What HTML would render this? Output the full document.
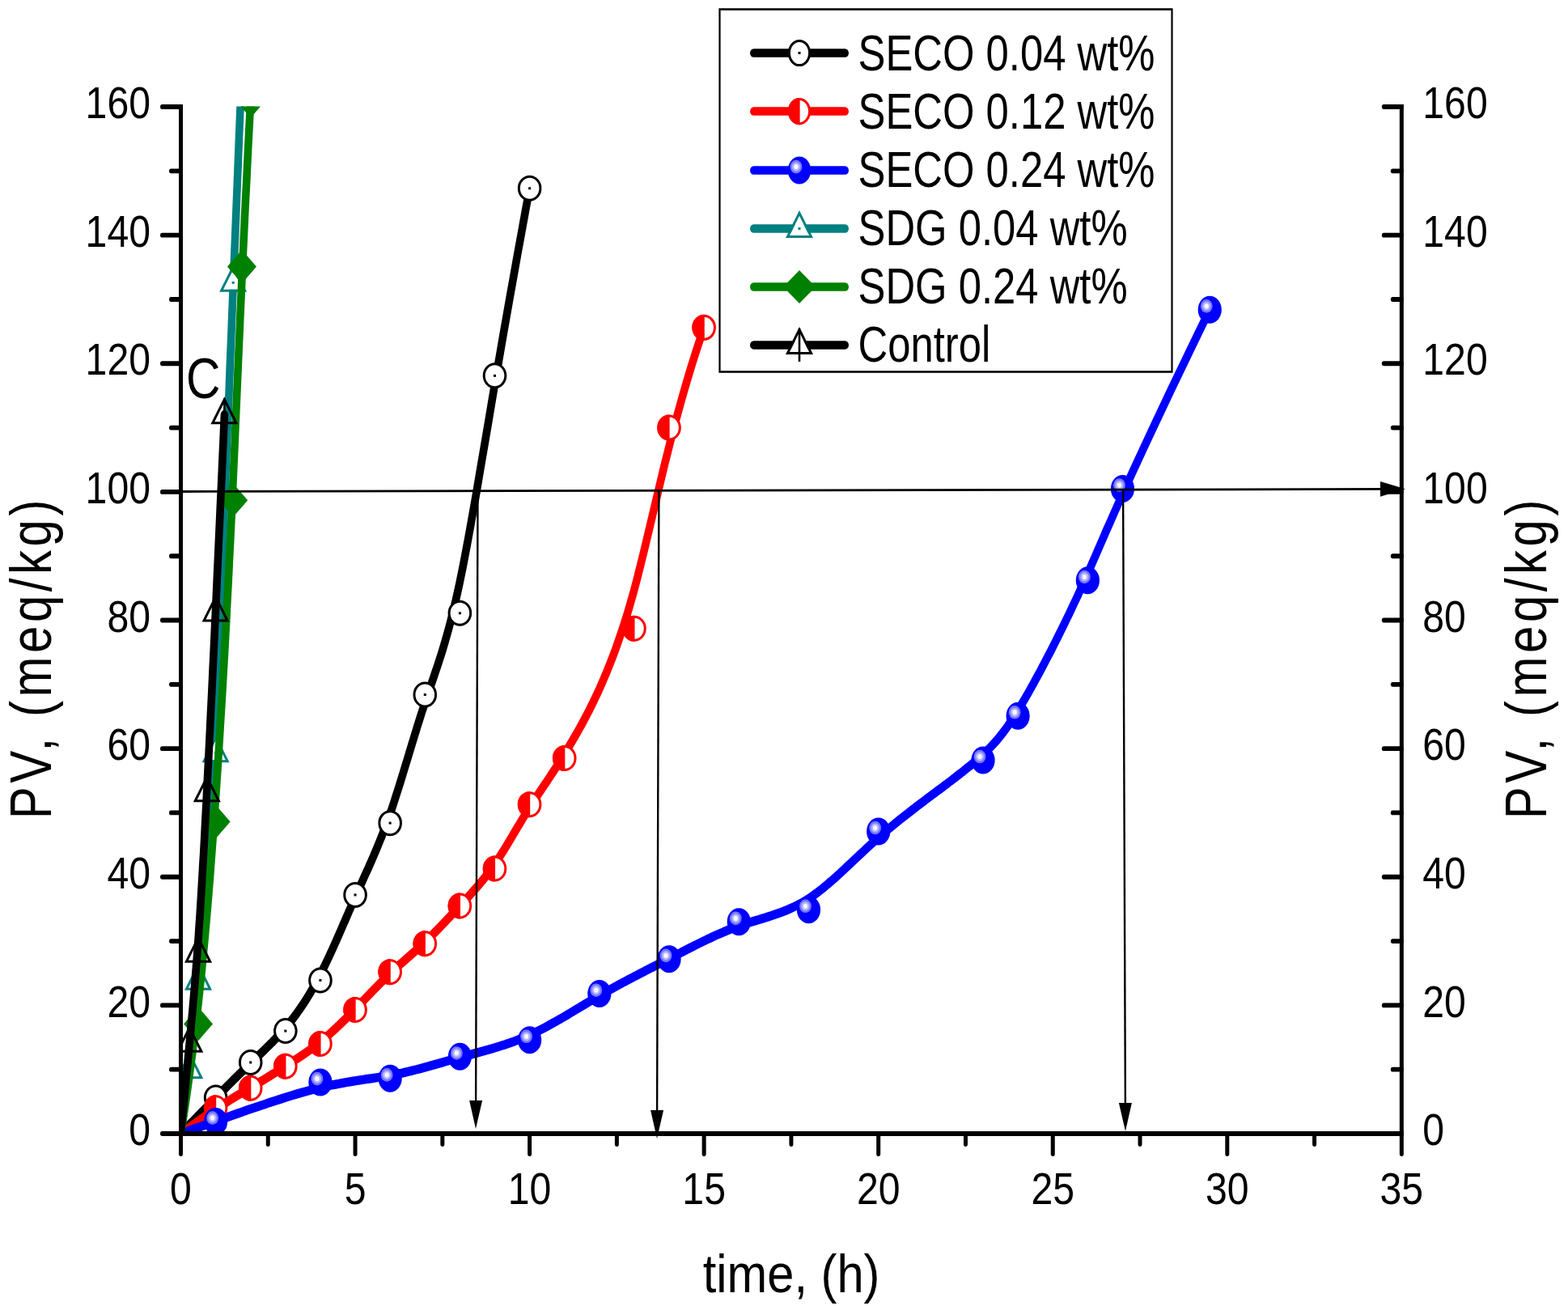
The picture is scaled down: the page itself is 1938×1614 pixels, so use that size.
<!DOCTYPE html>
<html><head><meta charset="utf-8"><title>PV vs time</title>
<style>html,body{margin:0;padding:0;background:#fff;}svg{display:block;}</style>
</head><body>
<svg width="1938" height="1614" viewBox="0 0 1938 1614" font-family="&quot;Liberation Sans&quot;, sans-serif" font-size="100">
<rect width="1938" height="1614" fill="#fff"/>
<defs><clipPath id="pc"><rect x="223.5" y="112.35" width="1508.85" height="1084.58"/></clipPath><clipPath id="pc2"><rect x="223.5" y="131.54" width="1508.85" height="1268.96"/></clipPath></defs>
<g transform="scale(1,1.17)" clip-path="url(#pc)"><path d="M223.5,1197.4 L228.8,1192.8 L233.8,1188.3 L238.7,1184.1 L243.3,1180.0 L247.8,1176.1 L252.1,1172.3 L256.2,1168.8 L260.1,1165.3 L263.9,1162.1 L267.5,1158.9 L270.9,1155.9 L274.2,1153.0 L277.4,1150.3 L280.5,1147.6 L283.5,1145.1 L286.3,1142.7 L289.0,1140.3 L291.7,1138.1 L294.3,1135.9 L296.8,1133.8 L299.2,1131.8 L301.6,1129.8 L303.9,1127.9 L306.1,1126.0 L308.4,1124.1 L310.5,1122.3 L312.7,1120.6 L314.8,1118.8 L316.9,1117.1 L319.0,1115.4 L321.0,1113.8 L323.0,1112.1 L325.0,1110.5 L327.0,1108.9 L328.9,1107.2 L330.8,1105.6 L332.7,1104.0 L334.6,1102.4 L336.5,1100.8 L338.3,1099.2 L340.2,1097.6 L342.0,1095.9 L343.8,1094.3 L345.6,1092.6 L347.4,1090.9 L349.2,1089.1 L351.0,1087.4 L352.8,1085.6 L354.6,1083.8 L356.4,1081.9 L358.2,1080.0 L360.0,1078.1 L361.8,1076.1 L363.6,1074.1 L365.4,1072.0 L367.2,1069.9 L369.0,1067.7 L370.8,1065.6 L372.6,1063.3 L374.4,1061.0 L376.2,1058.7 L378.0,1056.3 L379.8,1053.8 L381.6,1051.3 L383.4,1048.8 L385.2,1046.2 L387.0,1043.5 L388.8,1040.8 L390.6,1038.0 L392.3,1035.2 L394.1,1032.3 L395.9,1029.3 L397.7,1026.3 L399.5,1023.2 L401.3,1020.1 L403.1,1016.9 L404.9,1013.6 L406.7,1010.4 L408.5,1007.0 L410.3,1003.7 L412.1,1000.3 L413.9,996.8 L415.7,993.4 L417.5,989.9 L419.3,986.4 L421.1,982.9 L422.9,979.3 L424.7,975.8 L426.5,972.3 L428.3,968.7 L430.1,965.2 L431.9,961.6 L433.7,958.1 L435.5,954.6 L437.3,951.1 L439.0,947.6 L440.8,944.2 L442.6,940.8 L444.4,937.4 L446.2,933.9 L448.0,930.5 L449.8,927.1 L451.6,923.7 L453.4,920.3 L455.2,916.9 L457.0,913.4 L458.8,909.9 L460.6,906.4 L462.4,902.8 L464.2,899.2 L466.0,895.5 L467.8,891.8 L469.6,888.0 L471.4,884.2 L473.2,880.3 L475.0,876.3 L476.8,872.2 L478.6,868.0 L480.4,863.8 L482.2,859.4 L484.0,855.0 L485.8,850.4 L487.5,845.8 L489.3,841.0 L491.1,836.2 L492.9,831.4 L494.7,826.5 L496.5,821.5 L498.3,816.5 L500.1,811.5 L501.9,806.4 L503.7,801.4 L505.5,796.3 L507.3,791.2 L509.1,786.1 L510.9,781.0 L512.7,776.0 L514.5,771.0 L516.3,766.0 L518.1,761.1 L519.9,756.2 L521.7,751.4 L523.5,746.7 L525.3,742.0 L527.1,737.4 L528.9,732.9 L530.7,728.4 L532.5,724.0 L534.3,719.5 L536.1,715.0 L537.9,710.4 L539.8,705.7 L541.6,701.0 L543.5,696.0 L545.4,691.0 L547.3,685.7 L549.2,680.3 L551.1,674.6 L553.1,668.6 L555.1,662.4 L557.1,655.8 L559.1,648.9 L561.2,641.7 L563.3,634.1 L565.4,626.1 L567.6,617.6 L569.7,608.7 L572.0,599.3 L574.2,589.4 L576.5,579.1 L578.9,568.1 L581.3,556.7 L583.8,544.7 L586.4,532.1 L589.1,519.0 L591.8,505.3 L594.6,491.0 L597.6,476.1 L600.7,460.6 L603.9,444.5 L607.2,427.7 L610.6,410.3 L614.2,392.3 L618.0,373.6 L621.9,354.2 L626.0,334.2 L630.3,313.4 L634.8,292.0 L639.4,269.8 L644.3,246.9 L649.3,223.3 L654.6,198.9" fill="none" stroke="#000000" stroke-width="9.6" stroke-linecap="round" stroke-linejoin="round"/></g>
<g clip-path="url(#pc2)"><ellipse cx="266.61" cy="1356.59" rx="13.3" ry="14.5" fill="#fff" stroke="#000000" stroke-width="3.0"/><rect x="265.11" y="1355.09" width="3" height="3" fill="#000000"/><ellipse cx="309.72" cy="1312.97" rx="13.3" ry="14.5" fill="#fff" stroke="#000000" stroke-width="3.0"/><rect x="308.22" y="1311.47" width="3" height="3" fill="#000000"/><ellipse cx="352.83" cy="1274.1" rx="13.3" ry="14.5" fill="#fff" stroke="#000000" stroke-width="3.0"/><rect x="351.33" y="1272.6" width="3" height="3" fill="#000000"/><ellipse cx="395.94" cy="1211.45" rx="13.3" ry="14.5" fill="#fff" stroke="#000000" stroke-width="3.0"/><rect x="394.44" y="1209.95" width="3" height="3" fill="#000000"/><ellipse cx="439.05" cy="1105.97" rx="13.3" ry="14.5" fill="#fff" stroke="#000000" stroke-width="3.0"/><rect x="437.55" y="1104.47" width="3" height="3" fill="#000000"/><ellipse cx="482.16" cy="1017.14" rx="13.3" ry="14.5" fill="#fff" stroke="#000000" stroke-width="3.0"/><rect x="480.66" y="1015.64" width="3" height="3" fill="#000000"/><ellipse cx="525.27" cy="858.52" rx="13.3" ry="14.5" fill="#fff" stroke="#000000" stroke-width="3.0"/><rect x="523.77" y="857.02" width="3" height="3" fill="#000000"/><ellipse cx="568.38" cy="757.8" rx="13.3" ry="14.5" fill="#fff" stroke="#000000" stroke-width="3.0"/><rect x="566.88" y="756.3" width="3" height="3" fill="#000000"/><ellipse cx="611.49" cy="464.35" rx="13.3" ry="14.5" fill="#fff" stroke="#000000" stroke-width="3.0"/><rect x="609.99" y="462.85" width="3" height="3" fill="#000000"/><ellipse cx="654.6" cy="232.76" rx="13.3" ry="14.5" fill="#fff" stroke="#000000" stroke-width="3.0"/><rect x="653.1" y="231.26" width="3" height="3" fill="#000000"/></g>
<g transform="scale(1,1.17)" clip-path="url(#pc)"><path d="M223.5,1197.4 L228.8,1194.1 L233.8,1191.0 L238.7,1188.0 L243.3,1185.2 L247.8,1182.5 L252.1,1180.0 L256.2,1177.6 L260.1,1175.3 L263.9,1173.1 L267.5,1171.1 L270.9,1169.2 L274.2,1167.3 L277.4,1165.6 L280.5,1163.9 L283.5,1162.3 L286.3,1160.8 L289.0,1159.4 L291.7,1158.0 L294.3,1156.7 L296.8,1155.5 L299.2,1154.2 L301.6,1153.0 L303.9,1151.9 L306.1,1150.7 L308.4,1149.6 L310.5,1148.5 L312.7,1147.4 L314.8,1146.3 L316.9,1145.2 L319.0,1144.1 L321.0,1143.1 L323.0,1142.0 L325.0,1141.0 L327.0,1140.0 L328.9,1139.0 L330.8,1137.9 L332.7,1136.9 L334.6,1135.9 L336.5,1134.9 L338.3,1134.0 L340.2,1133.0 L342.0,1132.0 L343.8,1131.0 L345.6,1130.0 L347.4,1129.1 L349.2,1128.1 L351.0,1127.1 L352.8,1126.1 L354.6,1125.2 L356.4,1124.2 L358.2,1123.2 L360.0,1122.2 L361.8,1121.2 L363.6,1120.2 L365.4,1119.2 L367.2,1118.2 L369.0,1117.2 L370.8,1116.2 L372.6,1115.2 L374.4,1114.1 L376.2,1113.1 L378.0,1112.0 L379.8,1110.9 L381.6,1109.8 L383.4,1108.7 L385.2,1107.6 L387.0,1106.5 L388.8,1105.3 L390.6,1104.1 L392.3,1102.9 L394.1,1101.7 L395.9,1100.5 L397.7,1099.2 L399.5,1098.0 L401.3,1096.7 L403.1,1095.4 L404.9,1094.0 L406.7,1092.7 L408.5,1091.3 L410.3,1089.9 L412.1,1088.5 L413.9,1087.1 L415.7,1085.7 L417.5,1084.2 L419.3,1082.8 L421.1,1081.3 L422.9,1079.8 L424.7,1078.3 L426.5,1076.8 L428.3,1075.3 L430.1,1073.7 L431.9,1072.2 L433.7,1070.6 L435.5,1069.1 L437.3,1067.5 L439.0,1065.9 L440.8,1064.3 L442.6,1062.8 L444.4,1061.2 L446.2,1059.6 L448.0,1058.0 L449.8,1056.4 L451.6,1054.7 L453.4,1053.1 L455.2,1051.5 L457.0,1049.9 L458.8,1048.3 L460.6,1046.7 L462.4,1045.1 L464.2,1043.6 L466.0,1042.0 L467.8,1040.4 L469.6,1038.9 L471.4,1037.3 L473.2,1035.8 L475.0,1034.3 L476.8,1032.7 L478.6,1031.3 L480.4,1029.8 L482.2,1028.3 L484.0,1026.9 L485.8,1025.4 L487.5,1024.0 L489.3,1022.6 L491.1,1021.2 L492.9,1019.8 L494.7,1018.5 L496.5,1017.1 L498.3,1015.8 L500.1,1014.4 L501.9,1013.1 L503.7,1011.7 L505.5,1010.4 L507.3,1009.0 L509.1,1007.6 L510.9,1006.3 L512.7,1004.9 L514.5,1003.6 L516.3,1002.2 L518.1,1000.8 L519.9,999.4 L521.7,998.0 L523.5,996.5 L525.3,995.1 L527.1,993.6 L528.9,992.2 L530.7,990.7 L532.5,989.1 L534.3,987.6 L536.0,986.1 L537.8,984.5 L539.6,983.0 L541.4,981.4 L543.2,979.8 L545.0,978.2 L546.8,976.6 L548.6,975.0 L550.4,973.4 L552.2,971.7 L554.0,970.1 L555.8,968.5 L557.6,966.8 L559.4,965.2 L561.2,963.5 L563.0,961.9 L564.8,960.2 L566.6,958.6 L568.4,956.9 L570.2,955.3 L572.0,953.6 L573.8,951.9 L575.6,950.3 L577.4,948.6 L579.2,946.9 L581.0,945.2 L582.7,943.5 L584.5,941.8 L586.3,940.1 L588.1,938.3 L589.9,936.6 L591.7,934.8 L593.5,932.9 L595.3,931.1 L597.1,929.2 L598.9,927.3 L600.7,925.3 L602.5,923.3 L604.3,921.3 L606.1,919.2 L607.9,917.1 L609.7,914.9 L611.5,912.7 L613.3,910.5 L615.1,908.2 L616.9,905.8 L618.7,903.4 L620.5,901.0 L622.3,898.6 L624.1,896.1 L625.9,893.6 L627.7,891.1 L629.5,888.5 L631.2,886.0 L633.0,883.4 L634.8,880.8 L636.6,878.2 L638.4,875.6 L640.2,873.0 L642.0,870.5 L643.8,867.9 L645.6,865.3 L647.4,862.8 L649.2,860.3 L651.0,857.8 L652.8,855.3 L654.6,852.9 L656.4,850.4 L658.2,848.1 L660.0,845.7 L661.8,843.3 L663.6,841.0 L665.5,838.6 L667.4,836.2 L669.2,833.8 L671.1,831.4 L673.1,828.9 L675.1,826.4 L677.1,823.8 L679.1,821.2 L681.2,818.5 L683.3,815.8 L685.5,812.9 L687.7,810.0 L690.0,806.9 L692.3,803.8 L694.7,800.5 L697.1,797.2 L699.7,793.6 L702.2,790.0 L704.9,786.2 L707.6,782.3 L710.4,778.1 L713.3,773.9 L716.2,769.4 L719.2,764.8 L722.2,760.0 L725.3,755.0 L728.4,749.8 L731.6,744.4 L734.8,738.7 L738.0,732.9 L741.3,726.8 L744.5,720.5 L747.8,713.9 L751.1,707.2 L754.4,700.1 L757.7,692.8 L761.0,685.2 L764.2,677.4 L767.5,669.2 L770.8,660.8 L774.0,652.1 L777.2,643.1 L780.3,633.7 L783.5,624.1 L786.6,614.2 L789.6,603.9 L792.7,593.4 L795.8,582.7 L798.9,571.6 L802.0,560.4 L805.2,548.9 L808.4,537.3 L811.7,525.4 L815.1,513.3 L818.5,501.1 L822.0,488.7 L825.7,476.2 L829.4,463.5 L833.3,450.8 L837.3,437.9 L841.5,424.9 L845.8,411.9 L850.3,398.8 L854.9,385.7 L859.8,372.5 L864.9,359.3 L870.1,346.0" fill="none" stroke="#ff0000" stroke-width="9.6" stroke-linecap="round" stroke-linejoin="round"/></g>
<g clip-path="url(#pc2)"><ellipse cx="266.61" cy="1369.28" rx="13.3" ry="14.5" fill="#fff" stroke="#ff0000" stroke-width="3.0"/><path d="M267.21,1353.28 L267.21,1385.28 L266.61,1385.28 A14.8,16 0 0 1 266.61,1353.28 Z" fill="#ff0000"/><ellipse cx="309.72" cy="1344.69" rx="13.3" ry="14.5" fill="#fff" stroke="#ff0000" stroke-width="3.0"/><path d="M310.32,1328.69 L310.32,1360.69 L309.72,1360.69 A14.8,16 0 0 1 309.72,1328.69 Z" fill="#ff0000"/><ellipse cx="352.83" cy="1317.72" rx="13.3" ry="14.5" fill="#fff" stroke="#ff0000" stroke-width="3.0"/><path d="M353.43,1301.72 L353.43,1333.72 L352.83,1333.72 A14.8,16 0 0 1 352.83,1301.72 Z" fill="#ff0000"/><ellipse cx="395.94" cy="1289.97" rx="13.3" ry="14.5" fill="#fff" stroke="#ff0000" stroke-width="3.0"/><path d="M396.54,1273.97 L396.54,1305.97 L395.94,1305.97 A14.8,16 0 0 1 395.94,1273.97 Z" fill="#ff0000"/><ellipse cx="439.05" cy="1247.93" rx="13.3" ry="14.5" fill="#fff" stroke="#ff0000" stroke-width="3.0"/><path d="M439.65,1231.93 L439.65,1263.93 L439.05,1263.93 A14.8,16 0 0 1 439.05,1231.93 Z" fill="#ff0000"/><ellipse cx="482.16" cy="1201.14" rx="13.3" ry="14.5" fill="#fff" stroke="#ff0000" stroke-width="3.0"/><path d="M482.76,1185.14 L482.76,1217.14 L482.16,1217.14 A14.8,16 0 0 1 482.16,1185.14 Z" fill="#ff0000"/><ellipse cx="525.27" cy="1166.24" rx="13.3" ry="14.5" fill="#fff" stroke="#ff0000" stroke-width="3.0"/><path d="M525.87,1150.24 L525.87,1182.24 L525.27,1182.24 A14.8,16 0 0 1 525.27,1150.24 Z" fill="#ff0000"/><ellipse cx="568.38" cy="1119.45" rx="13.3" ry="14.5" fill="#fff" stroke="#ff0000" stroke-width="3.0"/><path d="M568.98,1103.45 L568.98,1135.45 L568.38,1135.45 A14.8,16 0 0 1 568.38,1103.45 Z" fill="#ff0000"/><ellipse cx="611.49" cy="1073.45" rx="13.3" ry="14.5" fill="#fff" stroke="#ff0000" stroke-width="3.0"/><path d="M612.09,1057.45 L612.09,1089.45 L611.49,1089.45 A14.8,16 0 0 1 611.49,1057.45 Z" fill="#ff0000"/><ellipse cx="654.6" cy="994.14" rx="13.3" ry="14.5" fill="#fff" stroke="#ff0000" stroke-width="3.0"/><path d="M655.2,978.14 L655.2,1010.14 L654.6,1010.14 A14.8,16 0 0 1 654.6,978.14 Z" fill="#ff0000"/><ellipse cx="697.71" cy="937.04" rx="13.3" ry="14.5" fill="#fff" stroke="#ff0000" stroke-width="3.0"/><path d="M698.31,921.04 L698.31,953.04 L697.71,953.04 A14.8,16 0 0 1 697.71,921.04 Z" fill="#ff0000"/><ellipse cx="783.93" cy="776.83" rx="13.3" ry="14.5" fill="#fff" stroke="#ff0000" stroke-width="3.0"/><path d="M784.53,760.83 L784.53,792.83 L783.93,792.83 A14.8,16 0 0 1 783.93,760.83 Z" fill="#ff0000"/><ellipse cx="827.04" cy="528.59" rx="13.3" ry="14.5" fill="#fff" stroke="#ff0000" stroke-width="3.0"/><path d="M827.64,512.59 L827.64,544.59 L827.04,544.59 A14.8,16 0 0 1 827.04,512.59 Z" fill="#ff0000"/><ellipse cx="870.15" cy="404.87" rx="13.3" ry="14.5" fill="#fff" stroke="#ff0000" stroke-width="3.0"/><path d="M870.75,388.87 L870.75,420.87 L870.15,420.87 A14.8,16 0 0 1 870.15,388.87 Z" fill="#ff0000"/></g>
<g transform="scale(1,1.17)" clip-path="url(#pc)"><path d="M223.5,1197.4 L229.0,1195.8 L234.7,1194.1 L240.6,1192.3 L246.7,1190.4 L252.9,1188.5 L259.3,1186.6 L265.7,1184.6 L272.3,1182.6 L279.0,1180.6 L285.8,1178.5 L292.6,1176.5 L299.4,1174.5 L306.2,1172.4 L313.1,1170.4 L319.9,1168.4 L326.8,1166.5 L333.5,1164.5 L340.2,1162.7 L346.8,1160.9 L353.3,1159.1 L359.7,1157.4 L366.0,1155.8 L372.0,1154.3 L378.0,1152.9 L383.7,1151.5 L389.3,1150.3 L394.7,1149.2 L399.9,1148.1 L405.0,1147.1 L409.9,1146.2 L414.7,1145.4 L419.4,1144.6 L423.9,1143.9 L428.3,1143.2 L432.6,1142.6 L436.8,1142.0 L440.9,1141.4 L444.9,1140.9 L448.9,1140.4 L452.8,1139.9 L456.6,1139.4 L460.3,1139.0 L464.0,1138.5 L467.7,1138.0 L471.3,1137.5 L475.0,1137.0 L478.6,1136.5 L482.2,1136.0 L485.8,1135.4 L489.3,1134.8 L492.9,1134.1 L496.5,1133.5 L500.1,1132.8 L503.7,1132.1 L507.3,1131.3 L510.9,1130.6 L514.5,1129.8 L518.1,1129.0 L521.7,1128.2 L525.3,1127.3 L528.9,1126.5 L532.5,1125.6 L536.0,1124.8 L539.6,1123.9 L543.2,1123.1 L546.8,1122.2 L550.4,1121.3 L554.0,1120.4 L557.6,1119.6 L561.2,1118.7 L564.8,1117.8 L568.4,1117.0 L572.0,1116.2 L575.6,1115.3 L579.2,1114.5 L582.8,1113.7 L586.3,1112.8 L589.9,1112.0 L593.5,1111.1 L597.1,1110.3 L600.7,1109.4 L604.3,1108.6 L607.9,1107.7 L611.5,1106.7 L615.1,1105.8 L618.7,1104.8 L622.3,1103.9 L625.9,1102.8 L629.5,1101.8 L633.0,1100.7 L636.6,1099.6 L640.2,1098.4 L643.8,1097.2 L647.4,1095.9 L651.0,1094.6 L654.6,1093.3 L658.2,1091.9 L661.8,1090.4 L665.4,1088.9 L669.0,1087.3 L672.6,1085.7 L676.2,1084.1 L679.7,1082.4 L683.3,1080.7 L686.9,1079.0 L690.5,1077.2 L694.1,1075.5 L697.7,1073.7 L701.3,1071.9 L704.9,1070.0 L708.5,1068.2 L712.1,1066.3 L715.7,1064.5 L719.3,1062.6 L722.9,1060.8 L726.5,1058.9 L730.0,1057.1 L733.6,1055.3 L737.2,1053.5 L740.8,1051.7 L744.4,1049.9 L748.0,1048.2 L751.6,1046.4 L755.2,1044.7 L758.8,1043.0 L762.4,1041.4 L766.0,1039.7 L769.6,1038.0 L773.2,1036.4 L776.7,1034.8 L780.3,1033.2 L783.9,1031.6 L787.5,1030.0 L791.1,1028.4 L794.7,1026.8 L798.3,1025.2 L801.9,1023.6 L805.5,1022.0 L809.1,1020.5 L812.7,1018.9 L816.3,1017.3 L819.9,1015.8 L823.4,1014.2 L827.0,1012.6 L830.6,1011.0 L834.2,1009.4 L837.8,1007.8 L841.4,1006.3 L845.0,1004.7 L848.6,1003.1 L852.2,1001.5 L855.8,1000.0 L859.4,998.4 L863.0,996.9 L866.6,995.4 L870.1,993.9 L873.7,992.4 L877.3,991.0 L880.9,989.5 L884.5,988.1 L888.1,986.8 L891.7,985.4 L895.3,984.1 L898.9,982.8 L902.5,981.6 L906.1,980.4 L909.7,979.3 L913.3,978.1 L916.9,977.1 L920.4,976.1 L924.0,975.1 L927.6,974.1 L931.2,973.1 L934.8,972.2 L938.4,971.3 L942.0,970.3 L945.6,969.4 L949.2,968.4 L952.8,967.4 L956.4,966.4 L960.0,965.3 L963.6,964.2 L967.1,963.1 L970.7,961.9 L974.3,960.6 L977.9,959.2 L981.5,957.8 L985.1,956.3 L988.7,954.7 L992.3,953.0 L995.9,951.2 L999.5,949.2 L1003.1,947.2 L1006.7,945.0 L1010.3,942.7 L1013.9,940.3 L1017.5,937.9 L1021.1,935.3 L1024.8,932.6 L1028.5,929.9 L1032.2,927.1 L1035.9,924.2 L1039.7,921.2 L1043.5,918.2 L1047.3,915.1 L1051.2,912.0 L1055.1,908.9 L1059.1,905.7 L1063.1,902.4 L1067.2,899.2 L1071.3,895.9 L1075.5,892.6 L1079.7,889.3 L1084.0,886.0 L1088.4,882.7 L1092.9,879.4 L1097.4,876.1 L1102.0,872.9 L1106.7,869.6 L1111.3,866.4 L1116.1,863.1 L1120.8,860.0 L1125.6,856.8 L1130.4,853.6 L1135.2,850.5 L1140.0,847.4 L1144.7,844.3 L1149.5,841.3 L1154.2,838.3 L1158.8,835.3 L1163.4,832.4 L1167.9,829.5 L1172.4,826.6 L1176.7,823.8 L1181.0,821.0 L1185.2,818.2 L1189.3,815.5 L1193.2,812.8 L1197.0,810.2 L1200.7,807.7 L1204.2,805.1 L1207.6,802.7 L1210.8,800.2 L1213.9,797.8 L1216.9,795.4 L1219.9,793.0 L1222.7,790.6 L1225.4,788.1 L1228.1,785.7 L1230.7,783.2 L1233.2,780.7 L1235.7,778.1 L1238.1,775.5 L1240.6,772.8 L1243.0,770.0 L1245.4,767.2 L1247.8,764.2 L1250.2,761.1 L1252.6,758.0 L1255.0,754.7 L1257.5,751.3 L1260.1,747.7 L1262.7,744.0 L1265.3,740.1 L1268.1,736.1 L1270.9,731.9 L1273.7,727.5 L1276.7,723.0 L1279.6,718.4 L1282.7,713.6 L1285.8,708.7 L1288.9,703.7 L1292.0,698.6 L1295.2,693.3 L1298.5,688.0 L1301.7,682.6 L1305.0,677.1 L1308.2,671.5 L1311.5,665.8 L1314.8,660.1 L1318.1,654.3 L1321.4,648.5 L1324.7,642.6 L1327.9,636.7 L1331.2,630.7 L1334.4,624.7 L1337.6,618.7 L1340.8,612.7 L1343.9,606.7 L1347.0,600.6 L1350.2,594.4 L1353.5,588.0 L1356.8,581.4 L1360.4,574.4 L1364.1,567.1 L1368.0,559.3 L1372.3,551.1 L1376.8,542.3 L1381.7,532.9 L1387.0,522.8 L1392.7,512.0 L1398.9,500.4 L1405.6,487.9 L1412.9,474.5 L1420.7,460.1 L1429.2,444.7 L1438.3,428.2 L1448.1,410.5 L1458.7,391.7 L1470.0,371.5 L1482.2,350.0 L1495.2,327.1" fill="none" stroke="#0000ff" stroke-width="9.6" stroke-linecap="round" stroke-linejoin="round"/></g>
<g clip-path="url(#pc2)"><ellipse cx="266.61" cy="1385.93" rx="14.6" ry="17" fill="#0000ff"/><ellipse cx="262.61" cy="1381.53" rx="7.4" ry="8.3" fill="#7878ff"/><ellipse cx="262.61" cy="1381.53" rx="5.1" ry="5.6" fill="#b4b4ff"/><ellipse cx="262.61" cy="1381.53" rx="2.7" ry="3.1" fill="#f8f8ff"/><ellipse cx="395.94" cy="1337.55" rx="14.6" ry="17" fill="#0000ff"/><ellipse cx="391.94" cy="1333.15" rx="7.4" ry="8.3" fill="#7878ff"/><ellipse cx="391.94" cy="1333.15" rx="5.1" ry="5.6" fill="#b4b4ff"/><ellipse cx="391.94" cy="1333.15" rx="2.7" ry="3.1" fill="#f8f8ff"/><ellipse cx="482.16" cy="1332.79" rx="14.6" ry="17" fill="#0000ff"/><ellipse cx="478.16" cy="1328.39" rx="7.4" ry="8.3" fill="#7878ff"/><ellipse cx="478.16" cy="1328.39" rx="5.1" ry="5.6" fill="#b4b4ff"/><ellipse cx="478.16" cy="1328.39" rx="2.7" ry="3.1" fill="#f8f8ff"/><ellipse cx="568.38" cy="1305.83" rx="14.6" ry="17" fill="#0000ff"/><ellipse cx="564.38" cy="1301.43" rx="7.4" ry="8.3" fill="#7878ff"/><ellipse cx="564.38" cy="1301.43" rx="5.1" ry="5.6" fill="#b4b4ff"/><ellipse cx="564.38" cy="1301.43" rx="2.7" ry="3.1" fill="#f8f8ff"/><ellipse cx="654.6" cy="1285.21" rx="14.6" ry="17" fill="#0000ff"/><ellipse cx="650.6" cy="1280.81" rx="7.4" ry="8.3" fill="#7878ff"/><ellipse cx="650.6" cy="1280.81" rx="5.1" ry="5.6" fill="#b4b4ff"/><ellipse cx="650.6" cy="1280.81" rx="2.7" ry="3.1" fill="#f8f8ff"/><ellipse cx="740.82" cy="1228.1" rx="14.6" ry="17" fill="#0000ff"/><ellipse cx="736.82" cy="1223.7" rx="7.4" ry="8.3" fill="#7878ff"/><ellipse cx="736.82" cy="1223.7" rx="5.1" ry="5.6" fill="#b4b4ff"/><ellipse cx="736.82" cy="1223.7" rx="2.7" ry="3.1" fill="#f8f8ff"/><ellipse cx="827.04" cy="1185.28" rx="14.6" ry="17" fill="#0000ff"/><ellipse cx="823.04" cy="1180.88" rx="7.4" ry="8.3" fill="#7878ff"/><ellipse cx="823.04" cy="1180.88" rx="5.1" ry="5.6" fill="#b4b4ff"/><ellipse cx="823.04" cy="1180.88" rx="2.7" ry="3.1" fill="#f8f8ff"/><ellipse cx="913.26" cy="1139.28" rx="14.6" ry="17" fill="#0000ff"/><ellipse cx="909.26" cy="1134.88" rx="7.4" ry="8.3" fill="#7878ff"/><ellipse cx="909.26" cy="1134.88" rx="5.1" ry="5.6" fill="#b4b4ff"/><ellipse cx="909.26" cy="1134.88" rx="2.7" ry="3.1" fill="#f8f8ff"/><ellipse cx="999.48" cy="1124.21" rx="14.6" ry="17" fill="#0000ff"/><ellipse cx="995.48" cy="1119.81" rx="7.4" ry="8.3" fill="#7878ff"/><ellipse cx="995.48" cy="1119.81" rx="5.1" ry="5.6" fill="#b4b4ff"/><ellipse cx="995.48" cy="1119.81" rx="2.7" ry="3.1" fill="#f8f8ff"/><ellipse cx="1085.7" cy="1027.45" rx="14.6" ry="17" fill="#0000ff"/><ellipse cx="1081.7" cy="1023.05" rx="7.4" ry="8.3" fill="#7878ff"/><ellipse cx="1081.7" cy="1023.05" rx="5.1" ry="5.6" fill="#b4b4ff"/><ellipse cx="1081.7" cy="1023.05" rx="2.7" ry="3.1" fill="#f8f8ff"/><ellipse cx="1215.03" cy="939.42" rx="14.6" ry="17" fill="#0000ff"/><ellipse cx="1211.03" cy="935.02" rx="7.4" ry="8.3" fill="#7878ff"/><ellipse cx="1211.03" cy="935.02" rx="5.1" ry="5.6" fill="#b4b4ff"/><ellipse cx="1211.03" cy="935.02" rx="2.7" ry="3.1" fill="#f8f8ff"/><ellipse cx="1258.14" cy="884.69" rx="14.6" ry="17" fill="#0000ff"/><ellipse cx="1254.14" cy="880.29" rx="7.4" ry="8.3" fill="#7878ff"/><ellipse cx="1254.14" cy="880.29" rx="5.1" ry="5.6" fill="#b4b4ff"/><ellipse cx="1254.14" cy="880.29" rx="2.7" ry="3.1" fill="#f8f8ff"/><ellipse cx="1344.36" cy="717.35" rx="14.6" ry="17" fill="#0000ff"/><ellipse cx="1340.36" cy="712.95" rx="7.4" ry="8.3" fill="#7878ff"/><ellipse cx="1340.36" cy="712.95" rx="5.1" ry="5.6" fill="#b4b4ff"/><ellipse cx="1340.36" cy="712.95" rx="2.7" ry="3.1" fill="#f8f8ff"/><ellipse cx="1387.47" cy="603.93" rx="14.6" ry="17" fill="#0000ff"/><ellipse cx="1383.47" cy="599.53" rx="7.4" ry="8.3" fill="#7878ff"/><ellipse cx="1383.47" cy="599.53" rx="5.1" ry="5.6" fill="#b4b4ff"/><ellipse cx="1383.47" cy="599.53" rx="2.7" ry="3.1" fill="#f8f8ff"/><ellipse cx="1495.24" cy="382.66" rx="14.6" ry="17" fill="#0000ff"/><ellipse cx="1491.24" cy="378.26" rx="7.4" ry="8.3" fill="#7878ff"/><ellipse cx="1491.24" cy="378.26" rx="5.1" ry="5.6" fill="#b4b4ff"/><ellipse cx="1491.24" cy="378.26" rx="2.7" ry="3.1" fill="#f8f8ff"/></g>
<g transform="scale(1,1.17)" clip-path="url(#pc)"><path d="M223.5,1197.4 L224.8,1189.1 L226.1,1180.9 L227.3,1172.9 L228.5,1165.1 L229.6,1157.5 L230.7,1149.9 L231.7,1142.5 L232.7,1135.3 L233.7,1128.1 L234.6,1120.9 L235.5,1113.8 L236.4,1106.8 L237.3,1099.8 L238.1,1092.8 L238.9,1085.7 L239.7,1078.7 L240.5,1071.6 L241.3,1064.5 L242.1,1057.2 L242.9,1049.9 L243.6,1042.5 L244.4,1034.9 L245.2,1027.2 L246.0,1019.4 L246.7,1011.4 L247.5,1003.1 L248.4,994.7 L249.2,985.9 L250.0,976.9 L250.9,967.6 L251.7,957.9 L252.6,947.8 L253.5,937.3 L254.3,926.4 L255.3,915.1 L256.2,903.2 L257.1,890.8 L258.1,877.8 L259.0,864.3 L260.0,850.1 L261.0,835.3 L262.0,819.9 L263.0,803.7 L264.1,786.8 L265.1,769.2 L266.2,750.7 L267.3,731.5 L268.4,711.4 L269.5,690.4 L270.7,668.4 L271.9,645.5 L273.1,621.6 L274.3,596.6 L275.6,570.4 L276.9,543.0 L278.3,514.4 L279.7,484.4 L281.2,453.1 L282.8,420.4 L284.3,386.2 L286.0,350.5 L287.7,313.2 L289.5,274.3 L291.4,233.7 L293.4,191.4 L295.4,147.2 L297.6,101.2 L299.8,53.4 L302.1,3.5 L304.6,-48.3 L307.1,-102.3 L309.7,-158.3" fill="none" stroke="#008080" stroke-width="9.6" stroke-linecap="round" stroke-linejoin="round"/></g>
<g clip-path="url(#pc2)"><path d="M234.28,1305.89 L246.42,1330.18 L222.13,1330.18 Z" fill="#fff"/><path d="M234.28,1299.18 L251.28,1333.18 L217.28,1333.18 Z M234.28,1305.89 L246.42,1330.18 L222.13,1330.18 Z" fill="#008080" fill-rule="evenodd"/><rect x="232.78" y="1320.19" width="3" height="3" fill="#008080"/><path d="M245.06,1196.44 L257.2,1220.73 L232.91,1220.73 Z" fill="#fff"/><path d="M245.06,1189.73 L262.06,1223.73 L228.06,1223.73 Z M245.06,1196.44 L257.2,1220.73 L232.91,1220.73 Z" fill="#008080" fill-rule="evenodd"/><rect x="243.56" y="1210.74" width="3" height="3" fill="#008080"/><path d="M266.61,914.89 L278.76,939.18 L254.46,939.18 Z" fill="#fff"/><path d="M266.61,908.18 L283.61,942.18 L249.61,942.18 Z M266.61,914.89 L278.76,939.18 L254.46,939.18 Z" fill="#008080" fill-rule="evenodd"/><rect x="265.11" y="929.19" width="3" height="3" fill="#008080"/><path d="M288.16,333.55 L300.31,357.84 L276.02,357.84 Z" fill="#fff"/><path d="M288.16,326.84 L305.16,360.84 L271.16,360.84 Z M288.16,333.55 L300.31,357.84 L276.02,357.84 Z" fill="#008080" fill-rule="evenodd"/><rect x="286.66" y="347.85" width="3" height="3" fill="#008080"/><path d="M309.72,-201 L321.87,-176.71 L297.57,-176.71 Z" fill="#fff"/><path d="M309.72,-207.71 L326.72,-173.71 L292.72,-173.71 Z M309.72,-201 L321.87,-176.71 L297.57,-176.71 Z" fill="#008080" fill-rule="evenodd"/><rect x="308.22" y="-186.7" width="3" height="3" fill="#008080"/></g>
<g transform="scale(1,1.17)" clip-path="url(#pc)"><path d="M223.5,1197.4 L226.1,1183.0 L228.7,1168.6 L231.1,1154.4 L233.4,1140.2 L235.6,1126.1 L237.8,1112.0 L239.8,1098.0 L241.8,1084.1 L243.7,1070.2 L245.5,1056.4 L247.2,1042.6 L248.9,1028.9 L250.5,1015.2 L252.0,1001.5 L253.5,987.8 L254.9,974.1 L256.3,960.5 L257.6,946.9 L258.9,933.2 L260.1,919.6 L261.3,905.9 L262.5,892.2 L263.7,878.5 L264.8,864.8 L265.9,851.0 L267.0,837.2 L268.1,823.4 L269.2,809.5 L270.2,795.6 L271.2,781.7 L272.2,767.7 L273.2,753.6 L274.2,739.6 L275.2,725.5 L276.1,711.3 L277.1,697.2 L278.0,682.9 L278.9,668.6 L279.8,654.3 L280.6,640.0 L281.5,625.6 L282.4,611.1 L283.2,596.6 L284.0,582.0 L284.9,567.4 L285.7,552.8 L286.5,538.1 L287.3,523.3 L288.0,508.5 L288.8,493.6 L289.6,478.6 L290.4,463.5 L291.1,448.3 L291.9,432.9 L292.7,417.4 L293.5,401.6 L294.3,385.6 L295.1,369.4 L296.0,353.0 L296.8,336.3 L297.7,319.2 L298.6,301.9 L299.5,284.2 L300.5,266.2 L301.5,247.8 L302.5,229.0 L303.6,209.8 L304.8,190.1 L305.9,170.0 L307.1,149.4 L308.4,128.4 L309.7,106.8" fill="none" stroke="#008000" stroke-width="9.6" stroke-linecap="round" stroke-linejoin="round"/></g>
<g clip-path="url(#pc2)"><polygon points="245.06,1244.58 263.06,1265.38 245.06,1286.18 227.06,1265.38" fill="#008000"/><polygon points="266.61,994.75 284.61,1015.55 266.61,1036.35 248.61,1015.55" fill="#008000"/><polygon points="288.16,597.41 306.16,618.21 288.16,639.01 270.16,618.21" fill="#008000"/><polygon points="298.94,308.72 316.94,329.52 298.94,350.32 280.94,329.52" fill="#008000"/><polygon points="309.72,104.1 327.72,124.9 309.72,145.7 291.72,124.9" fill="#008000"/></g>
<g transform="scale(1,1.17)" clip-path="url(#pc)"><path d="M223.5,1197.4 L224.8,1185.7 L226.1,1174.5 L227.3,1163.7 L228.5,1153.4 L229.6,1143.5 L230.6,1134.0 L231.7,1124.8 L232.6,1116.0 L233.6,1107.4 L234.5,1099.2 L235.4,1091.3 L236.2,1083.6 L237.0,1076.1 L237.8,1068.9 L238.5,1061.8 L239.2,1054.9 L239.9,1048.1 L240.6,1041.4 L241.2,1034.8 L241.8,1028.3 L242.4,1021.8 L243.0,1015.4 L243.6,1008.9 L244.2,1002.4 L244.7,995.9 L245.3,989.3 L245.8,982.7 L246.3,976.0 L246.9,969.2 L247.4,962.4 L247.9,955.4 L248.4,948.4 L248.9,941.3 L249.4,934.0 L249.9,926.7 L250.4,919.2 L250.9,911.6 L251.5,903.9 L252.0,896.1 L252.5,888.1 L253.0,879.9 L253.5,871.6 L254.0,863.1 L254.6,854.5 L255.1,845.7 L255.6,836.7 L256.2,827.5 L256.7,818.1 L257.3,808.5 L257.9,798.7 L258.5,788.6 L259.1,778.1 L259.7,767.3 L260.3,756.1 L261.0,744.5 L261.7,732.3 L262.4,719.6 L263.1,706.4 L263.9,692.5 L264.7,678.0 L265.5,662.8 L266.4,646.9 L267.3,630.2 L268.2,612.7 L269.2,594.3 L270.2,575.0 L271.3,554.8 L272.4,533.6 L273.6,511.4 L274.8,488.1 L276.1,463.7 L277.4,438.2" fill="none" stroke="#000000" stroke-width="9.6" stroke-linecap="round" stroke-linejoin="round"/></g>
<g clip-path="url(#pc2)"><path d="M234.28,1266.66 L251.28,1300.66 L217.28,1300.66 Z M234.28,1273.37 L246.42,1297.66 L222.13,1297.66 Z" fill="#000000" fill-rule="evenodd"/><rect x="232.98" y="1268.66" width="2.6" height="34" fill="#000000"/><path d="M245.06,1155.63 L262.06,1189.63 L228.06,1189.63 Z M245.06,1162.34 L257.2,1186.63 L232.91,1186.63 Z" fill="#000000" fill-rule="evenodd"/><rect x="243.75" y="1157.63" width="2.6" height="34" fill="#000000"/><path d="M255.83,957.36 L272.83,991.36 L238.83,991.36 Z M255.83,964.06 L267.98,988.36 L243.69,988.36 Z" fill="#000000" fill-rule="evenodd"/><rect x="254.53" y="959.36" width="2.6" height="34" fill="#000000"/><path d="M266.61,734.49 L283.61,768.49 L249.61,768.49 Z M266.61,741.2 L278.76,765.49 L254.46,765.49 Z" fill="#000000" fill-rule="evenodd"/><rect x="265.31" y="736.49" width="2.6" height="34" fill="#000000"/><path d="M277.39,490.22 L294.39,524.22 L260.39,524.22 Z M277.39,496.93 L289.53,521.22 L265.24,521.22 Z" fill="#000000" fill-rule="evenodd"/><rect x="276.09" y="492.22" width="2.6" height="34" fill="#000000"/></g>
<g transform="scale(1,1.17)">
<line x1="223.5" y1="519.23" x2="1712" y2="516.58" stroke="#000" stroke-width="2.4"/>
<polygon points="1706,508.55 1737,516.41 1706,524.62" fill="#000"/>
<line x1="590.5" y1="518.21" x2="588.11" y2="1164.1" stroke="#000" stroke-width="2.4"/>
<polygon points="580.11,1162.39 596.11,1162.39 588,1192.31" fill="#000"/>
<line x1="814.4" y1="518.21" x2="812.1" y2="1174.36" stroke="#000" stroke-width="2.4"/>
<polygon points="804.1,1172.65 820.1,1172.65 812,1202.56" fill="#000"/>
<line x1="1388.1" y1="517.09" x2="1390.87" y2="1166.67" stroke="#000" stroke-width="2.4"/>
<polygon points="1382.87,1164.96 1398.87,1164.96 1391,1194.87" fill="#000"/>
<g stroke="#000" stroke-width="5.0" stroke-linecap="round" fill="none">
<line x1="223.5" y1="112.85" x2="223.5" y2="1197.44" stroke-linecap="square"/>
<line x1="1732.35" y1="112.85" x2="1732.35" y2="1197.44" stroke-linecap="square"/>
<line x1="223.5" y1="1197.44" x2="1732.35" y2="1197.44" stroke-linecap="square"/>
<line x1="200.5" y1="1197.44" x2="223.5" y2="1197.44"/>
<line x1="211.5" y1="1129.65" x2="223.5" y2="1129.65"/>
<line x1="1721.35" y1="1129.65" x2="1732.35" y2="1129.65"/>
<line x1="200.5" y1="1061.86" x2="223.5" y2="1061.86"/>
<line x1="1710.35" y1="1061.86" x2="1732.35" y2="1061.86"/>
<line x1="211.5" y1="994.08" x2="223.5" y2="994.08"/>
<line x1="1721.35" y1="994.08" x2="1732.35" y2="994.08"/>
<line x1="200.5" y1="926.29" x2="223.5" y2="926.29"/>
<line x1="1710.35" y1="926.29" x2="1732.35" y2="926.29"/>
<line x1="211.5" y1="858.5" x2="223.5" y2="858.5"/>
<line x1="1721.35" y1="858.5" x2="1732.35" y2="858.5"/>
<line x1="200.5" y1="790.72" x2="223.5" y2="790.72"/>
<line x1="1710.35" y1="790.72" x2="1732.35" y2="790.72"/>
<line x1="211.5" y1="722.93" x2="223.5" y2="722.93"/>
<line x1="1721.35" y1="722.93" x2="1732.35" y2="722.93"/>
<line x1="200.5" y1="655.15" x2="223.5" y2="655.15"/>
<line x1="1710.35" y1="655.15" x2="1732.35" y2="655.15"/>
<line x1="211.5" y1="587.36" x2="223.5" y2="587.36"/>
<line x1="1721.35" y1="587.36" x2="1732.35" y2="587.36"/>
<line x1="200.5" y1="519.57" x2="223.5" y2="519.57"/>
<line x1="1710.35" y1="519.57" x2="1732.35" y2="519.57"/>
<line x1="211.5" y1="451.79" x2="223.5" y2="451.79"/>
<line x1="1721.35" y1="451.79" x2="1732.35" y2="451.79"/>
<line x1="200.5" y1="384" x2="223.5" y2="384"/>
<line x1="1710.35" y1="384" x2="1732.35" y2="384"/>
<line x1="211.5" y1="316.21" x2="223.5" y2="316.21"/>
<line x1="1721.35" y1="316.21" x2="1732.35" y2="316.21"/>
<line x1="200.5" y1="248.43" x2="223.5" y2="248.43"/>
<line x1="1710.35" y1="248.43" x2="1732.35" y2="248.43"/>
<line x1="211.5" y1="180.64" x2="223.5" y2="180.64"/>
<line x1="1721.35" y1="180.64" x2="1732.35" y2="180.64"/>
<line x1="200.5" y1="112.85" x2="223.5" y2="112.85"/>
<line x1="1710.35" y1="112.85" x2="1732.35" y2="112.85"/>
<line x1="223.5" y1="1197.44" x2="223.5" y2="1218.8"/>
<line x1="331.27" y1="1197.44" x2="331.27" y2="1208.55"/>
<line x1="439.05" y1="1197.44" x2="439.05" y2="1218.8"/>
<line x1="546.83" y1="1197.44" x2="546.83" y2="1208.55"/>
<line x1="654.6" y1="1197.44" x2="654.6" y2="1218.8"/>
<line x1="762.38" y1="1197.44" x2="762.38" y2="1208.55"/>
<line x1="870.15" y1="1197.44" x2="870.15" y2="1218.8"/>
<line x1="977.92" y1="1197.44" x2="977.92" y2="1208.55"/>
<line x1="1085.7" y1="1197.44" x2="1085.7" y2="1218.8"/>
<line x1="1193.47" y1="1197.44" x2="1193.47" y2="1208.55"/>
<line x1="1301.25" y1="1197.44" x2="1301.25" y2="1218.8"/>
<line x1="1409.03" y1="1197.44" x2="1409.03" y2="1208.55"/>
<line x1="1516.8" y1="1197.44" x2="1516.8" y2="1218.8"/>
<line x1="1624.58" y1="1197.44" x2="1624.58" y2="1208.55"/>
<line x1="1732.35" y1="1197.44" x2="1732.35" y2="1218.8"/>
</g>
<rect x="889.5" y="9.83" width="559" height="382.91" fill="none" stroke="#000" stroke-width="2.2"/>
<line x1="931.5" y1="55.98" x2="1044.5" y2="55.98" stroke="#000000" stroke-width="8.97" stroke-linecap="round"/>
<line x1="931.5" y1="117.61" x2="1044.5" y2="117.61" stroke="#ff0000" stroke-width="8.97" stroke-linecap="round"/>
<line x1="931.5" y1="179.91" x2="1044.5" y2="179.91" stroke="#0000ff" stroke-width="8.97" stroke-linecap="round"/>
<line x1="931.5" y1="241.45" x2="1044.5" y2="241.45" stroke="#008080" stroke-width="8.97" stroke-linecap="round"/>
<line x1="931.5" y1="302.99" x2="1044.5" y2="302.99" stroke="#008000" stroke-width="8.97" stroke-linecap="round"/>
<line x1="931.5" y1="364.44" x2="1044.5" y2="364.44" stroke="#000000" stroke-width="8.97" stroke-linecap="round"/>
</g>
<ellipse cx="988" cy="65.5" rx="12.6" ry="15.1" fill="#fff" stroke="#000000" stroke-width="3.0"/><rect x="986.5" y="64" width="3" height="3" fill="#000000"/>
<ellipse cx="988" cy="137.6" rx="12.6" ry="15.1" fill="#fff" stroke="#ff0000" stroke-width="3.0"/><path d="M988.6,121 L988.6,154.2 L988,154.2 A14.1,16.6 0 0 1 988,121 Z" fill="#ff0000"/>
<ellipse cx="988" cy="210.5" rx="14.2" ry="17" fill="#0000ff"/><ellipse cx="984" cy="206.1" rx="7.4" ry="8.3" fill="#7878ff"/><ellipse cx="984" cy="206.1" rx="5.1" ry="5.6" fill="#b4b4ff"/><ellipse cx="984" cy="206.1" rx="2.7" ry="3.1" fill="#f8f8ff"/>
<path d="M988,266.7 L1000.15,290.99 L975.85,290.99 Z" fill="#fff"/><path d="M988,259.99 L1005,293.99 L971,293.99 Z M988,266.7 L1000.15,290.99 L975.85,290.99 Z" fill="#008080" fill-rule="evenodd"/><rect x="986.5" y="281" width="3" height="3" fill="#008080"/>
<polygon points="988,334 1008,354.5 988,375 968,354.5" fill="#008000"/>
<path d="M988,410.6 L1000.15,434.89 L975.85,434.89 Z" fill="#fff"/><path d="M988,403.89 L1005,437.89 L971,437.89 Z M988,410.6 L1000.15,434.89 L975.85,434.89 Z" fill="#000000" fill-rule="evenodd"/><rect x="986.7" y="405.89" width="2.6" height="41" fill="#000000"/>
<g fill="#000">
<text transform="translate(223.5,1488.3) scale(0.4820,0.5520)" text-anchor="middle" >0</text>
<text transform="translate(439.05,1488.3) scale(0.4820,0.5520)" text-anchor="middle" >5</text>
<text transform="translate(654.6,1488.3) scale(0.4820,0.5520)" text-anchor="middle" >10</text>
<text transform="translate(870.15,1488.3) scale(0.4820,0.5520)" text-anchor="middle" >15</text>
<text transform="translate(1085.7,1488.3) scale(0.4820,0.5520)" text-anchor="middle" >20</text>
<text transform="translate(1301.25,1488.3) scale(0.4820,0.5520)" text-anchor="middle" >25</text>
<text transform="translate(1516.8,1488.3) scale(0.4820,0.5520)" text-anchor="middle" >30</text>
<text transform="translate(1732.35,1488.3) scale(0.4820,0.5520)" text-anchor="middle" >35</text>
<text transform="translate(186,1415.2) scale(0.4820,0.5520)" text-anchor="end" >0</text>
<text transform="translate(1758.3,1415.2) scale(0.4820,0.5520)" text-anchor="start" >0</text>
<text transform="translate(186,1256.58) scale(0.4820,0.5520)" text-anchor="end" >20</text>
<text transform="translate(1758.3,1256.58) scale(0.4820,0.5520)" text-anchor="start" >20</text>
<text transform="translate(186,1097.96) scale(0.4820,0.5520)" text-anchor="end" >40</text>
<text transform="translate(1758.3,1097.96) scale(0.4820,0.5520)" text-anchor="start" >40</text>
<text transform="translate(186,939.34) scale(0.4820,0.5520)" text-anchor="end" >60</text>
<text transform="translate(1758.3,939.34) scale(0.4820,0.5520)" text-anchor="start" >60</text>
<text transform="translate(186,780.72) scale(0.4820,0.5520)" text-anchor="end" >80</text>
<text transform="translate(1758.3,780.72) scale(0.4820,0.5520)" text-anchor="start" >80</text>
<text transform="translate(186,622.1) scale(0.4820,0.5520)" text-anchor="end" >100</text>
<text transform="translate(1758.3,622.1) scale(0.4820,0.5520)" text-anchor="start" >100</text>
<text transform="translate(186,463.48) scale(0.4820,0.5520)" text-anchor="end" >120</text>
<text transform="translate(1758.3,463.48) scale(0.4820,0.5520)" text-anchor="start" >120</text>
<text transform="translate(186,304.86) scale(0.4820,0.5520)" text-anchor="end" >140</text>
<text transform="translate(1758.3,304.86) scale(0.4820,0.5520)" text-anchor="start" >140</text>
<text transform="translate(186,146.24) scale(0.4820,0.5520)" text-anchor="end" >160</text>
<text transform="translate(1758.3,146.24) scale(0.4820,0.5520)" text-anchor="start" >160</text>
<text transform="translate(868.7,1596.9) scale(0.5967,0.6710)" text-anchor="start" >time, (h)</text>
<text transform="translate(63.3,1012.2) rotate(-90) scale(0.6000,0.7140)" text-anchor="start" letter-spacing="7.6">PV, (meq/kg)</text>
<text transform="translate(1910.6,1012.2) rotate(-90) scale(0.6000,0.7160)" text-anchor="start" letter-spacing="7.6">PV, (meq/kg)</text>
<text transform="translate(1060.5,86.5) scale(0.5080,0.6250)" text-anchor="start" >SECO 0.04 wt%</text>
<text transform="translate(1060.5,158.6) scale(0.5080,0.6250)" text-anchor="start" >SECO 0.12 wt%</text>
<text transform="translate(1060.5,230.7) scale(0.5080,0.6250)" text-anchor="start" >SECO 0.24 wt%</text>
<text transform="translate(1060.5,302.8) scale(0.5080,0.6250)" text-anchor="start" >SDG 0.04 wt%</text>
<text transform="translate(1060.5,374.9) scale(0.5080,0.6250)" text-anchor="start" >SDG 0.24 wt%</text>
<text transform="translate(1060.5,447) scale(0.5080,0.6250)" text-anchor="start" >Control</text>
<text transform="translate(230,492) scale(0.5870,0.7040)" text-anchor="start" >C</text>
</g>
</svg>
</body></html>
